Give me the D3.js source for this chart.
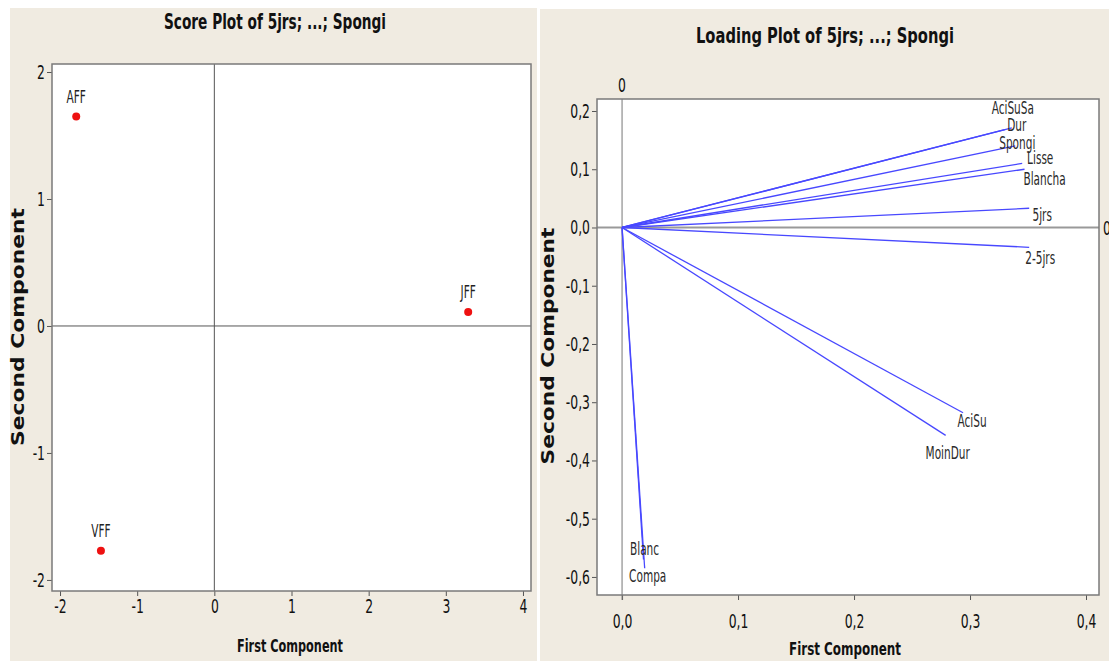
<!DOCTYPE html>
<html>
<head>
<style>
  body { margin: 0; background: #fff; }
  svg { display: block; font-family: "DejaVu Sans", Verdana, sans-serif; }
</style>
</head>
<body>
<div id="chart"></div>
<script src="https://cdnjs.cloudflare.com/ajax/libs/d3/7.8.5/d3.min.js"></script>
<script>
// score plot data
const scoreNames = ["AFF", "JFF", "VFF"];
const scorePC1 = [-1.79, 3.29, -1.47];
const scorePC2 = [1.65, 0.11, -1.77];
const scoreXTicks = [-2, -1, 0, 1, 2, 3, 4];
const scoreYTicks = [-2, -1, 0, 1, 2];

// loading plot data
const loadNames = ["AciSuSa", "Dur", "Spongi", "Lisse", "Blancha", "5jrs", "2-5jrs", "AciSu", "MoinDur", "Blanc", "Compa"];
const loadPC1 = [0.330, 0.336, 0.339, 0.345, 0.347, 0.351, 0.351, 0.294, 0.279, 0.0185, 0.0195];
const loadPC2 = [0.168, 0.171, 0.140, 0.110, 0.100, 0.033, -0.034, -0.318, -0.357, -0.570, -0.585];
const loadXTicks = [0, 0.1, 0.2, 0.3, 0.4];
const loadYTicks = [-0.6, -0.5, -0.4, -0.3, -0.2, -0.1, 0, 0.1, 0.2];

// label nudges (px) so the texts sit like minitab placed them
const loadLabelShift = {
  "AciSuSa": [8, -22], "Dur": [5, -3], "Spongi": [2, -3], "Lisse": [18, -6],
  "Blancha": [20, 10], "5jrs": [13, 7], "2-5jrs": [11, 11], "AciSu": [9, 8],
  "MoinDur": [2, 17], "Blanc": [1, -11], "Compa": [3, 8]
};

const W = 1109, H = 661;
const SQ = 0.62;   // horizontal squeeze of the original picture
const beige = "#f0ebe1";

const locale = d3.formatLocale({ decimal: ",", thousands: ".", grouping: [3], minus: "-" });
const fmtInt = locale.format("d");
const fmt1 = locale.format(".1f");

const svg = d3.select("#chart").append("svg")
  .attr("width", W).attr("height", H);

svg.append("rect").attr("width", W).attr("height", H).attr("fill", "#fff");
svg.append("rect").attr("x", 10).attr("y", 8).attr("width", 527).attr("height", H - 8).attr("fill", beige);
svg.append("rect").attr("x", 540).attr("y", 9).attr("width", W - 540).attr("height", H - 9).attr("fill", beige);

function drawAxes(xs, ys, xt, yt, xf, yf, xPad) {
  const [x0, x1] = xs.range();
  const [y0, y1] = ys.range();

  svg.append("rect")
    .attr("x", x0).attr("y", y1)
    .attr("width", x1 - x0).attr("height", y0 - y1)
    .attr("fill", "#fff");

  const gx = svg.append("g")
    .attr("transform", `translate(0,${y0})`)
    .call(d3.axisBottom(xs).tickValues(xt).tickFormat(xf).tickSize(5).tickPadding(xPad));
  const gy = svg.append("g")
    .attr("transform", `translate(${x0},0)`)
    .call(d3.axisLeft(ys).tickValues(yt).tickFormat(yf).tickSize(5).tickPadding(2));

  [gx, gy].forEach(g => {
    g.select(".domain").remove();
    g.selectAll(".tick line").attr("stroke", "#555");
    g.selectAll(".tick text")
      .attr("font-size", 20)
      .attr("font-family", "DejaVu Sans, sans-serif")
      .attr("fill", "#111");
  });
  gx.selectAll(".tick text").attr("transform", `scale(${SQ},1)`);
  gy.selectAll(".tick text")
    .attr("x", -7 / SQ)
    .attr("transform", `scale(${SQ},1)`);

  return { x0, x1, y0, y1 };
}

function frame(b) {
  svg.append("rect")
    .attr("x", b.x0).attr("y", b.y1)
    .attr("width", b.x1 - b.x0).attr("height", b.y0 - b.y1)
    .attr("fill", "none").attr("stroke", "#7a7a7a").attr("stroke-width", 1.5);
}

function title(txt, cx, y, len) {
  svg.append("text")
    .attr("x", cx - len / 2).attr("y", y)
    .attr("font-size", 21).attr("font-weight", "bold")
    .attr("textLength", len).attr("lengthAdjust", "spacingAndGlyphs")
    .attr("fill", "#111")
    .text(txt);
}

function yTitle(txt, cx, cy, len) {
  svg.append("text")
    .attr("transform", `translate(${cx},${cy}) rotate(-90)`)
    .attr("x", -len / 2).attr("dy", "0.36em")
    .attr("font-size", 17).attr("font-weight", "bold")
    .attr("textLength", len).attr("lengthAdjust", "spacingAndGlyphs")
    .attr("fill", "#111")
    .text(txt);
}

// ---------- score plot ----------
const sx = d3.scaleLinear().domain([-2.104, 4.104]).range([52, 531]);
const sy = d3.scaleLinear().domain([-2.087, 2.063]).range([591, 64]);
const sb = drawAxes(sx, sy, scoreXTicks, scoreYTicks, fmtInt, fmtInt, 3);

svg.append("line")
  .attr("x1", sx(0)).attr("x2", sx(0)).attr("y1", sb.y1).attr("y2", sb.y0)
  .attr("stroke", "#555").attr("stroke-width", 1);
svg.append("line")
  .attr("x1", sb.x0).attr("x2", sb.x1).attr("y1", sy(0)).attr("y2", sy(0))
  .attr("stroke", "#555").attr("stroke-width", 1);
frame(sb);

const scores = scoreNames.map((n, i) => ({ name: n, x: scorePC1[i], y: scorePC2[i] }));
svg.append("g").selectAll("circle")
  .data(scores).join("circle")
  .attr("cx", d => sx(d.x)).attr("cy", d => sy(d.y))
  .attr("r", 4).attr("fill", "#ee1111");
svg.append("g").selectAll("text")
  .data(scores).join("text")
  .attr("transform", d => `translate(${sx(d.x)},${sy(d.y) - 20}) scale(${SQ},1)`)
  .attr("text-anchor", "middle").attr("dy", "0.36em")
  .attr("font-size", 17).attr("fill", "#222")
  .text(d => d.name);

title("Score Plot of 5jrs; ...; Spongi", 275, 29, 222);
yTitle("Second Component", 18, 327, 238);
svg.append("text")
  .attr("x", 290 - 53).attr("y", 652)
  .attr("font-size", 18).attr("font-weight", "bold")
  .attr("textLength", 106).attr("lengthAdjust", "spacingAndGlyphs")
  .attr("fill", "#111").text("First Component");

// ---------- loading plot ----------
const lx = d3.scaleLinear().domain([-0.0216, 0.4112]).range([597, 1099]);
const ly = d3.scaleLinear().domain([-0.631, 0.2206]).range([595, 99]);
const lb = drawAxes(lx, ly, loadXTicks, loadYTicks, fmt1, fmt1, 14);

svg.append("line")
  .attr("x1", lx(0)).attr("x2", lx(0)).attr("y1", lb.y1).attr("y2", lb.y0 + 5)
  .attr("stroke", "#777").attr("stroke-width", 1);
svg.append("line")
  .attr("x1", lb.x0).attr("x2", lb.x1).attr("y1", ly(0)).attr("y2", ly(0))
  .attr("stroke", "#999").attr("stroke-width", 2);
frame(lb);

// reference line labels
svg.append("text")
  .attr("transform", `translate(${lx(0)},${lb.y1 - 14}) scale(${SQ},1)`)
  .attr("text-anchor", "middle").attr("dy", "0.36em")
  .attr("font-size", 20).attr("fill", "#111").text("0");
svg.append("text")
  .attr("transform", `translate(${lb.x1 + 4},${ly(0)}) scale(${SQ},1)`)
  .attr("dy", "0.36em")
  .attr("font-size", 20).attr("fill", "#111").text("0");

const loads = loadNames.map((n, i) => ({ name: n, x: loadPC1[i], y: loadPC2[i] }));
svg.append("g").selectAll("line")
  .data(loads).join("line")
  .attr("x1", lx(0)).attr("y1", ly(0))
  .attr("x2", d => lx(d.x)).attr("y2", d => ly(d.y))
  .attr("stroke", "#4848ff").attr("stroke-width", 1.3);
svg.append("g").selectAll("text")
  .data(loads).join("text")
  .attr("transform", d => {
    const s = loadLabelShift[d.name] || [0, 0];
    return `translate(${lx(d.x) + s[0]},${ly(d.y) + s[1]}) scale(${SQ},1)`;
  })
  .attr("text-anchor", "middle").attr("dy", "0.36em")
  .attr("font-size", 17).attr("fill", "#2a2a2a")
  .text(d => d.name);

title("Loading Plot of 5jrs; ...; Spongi", 825, 43, 258);
yTitle("Second Component", 548, 346, 237);
svg.append("text")
  .attr("x", 845 - 56).attr("y", 655)
  .attr("font-size", 18).attr("font-weight", "bold")
  .attr("textLength", 112).attr("lengthAdjust", "spacingAndGlyphs")
  .attr("fill", "#111").text("First Component");
</script>
</body>
</html>
